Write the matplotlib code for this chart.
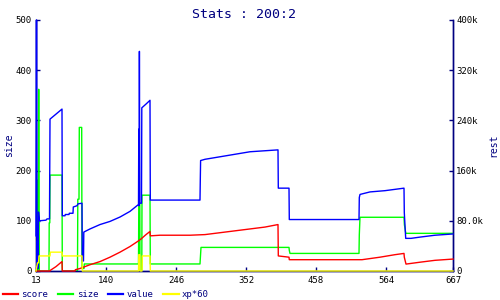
import numpy as np
import matplotlib
matplotlib.use("Agg")
import matplotlib.pyplot as plt

# x = sample position along the run, ticks are labelled with the step number
tick_pos = [0, 70, 140, 210, 280, 350, 417]
tick_lab = ["13", "140", "246", "352", "458", "564", "667"]

# size (left axis)
size_x = [0, 1.5, 1.8, 2.2, 2.7, 3.3, 13, 13.2, 13.8, 14, 26, 26.3, 41.5, 41.8, 43, 43.3,
          45.7, 46, 48, 48.3, 102.5, 102.8, 103.8, 104, 105.8, 106, 114, 114.3, 164, 165,
          253, 253.3, 254, 323, 323.3, 324, 368, 368.4, 369.8, 417]
size_y = [0, 0, 181, 0, 362, 0, 0, 96, 96, 191, 191, 0, 0, 143, 143, 286,
          286, 5, 5, 14, 14, 135, 135, 0, 0, 151, 151, 14, 14, 47,
          47, 41, 35, 35, 72, 107, 107, 92, 75, 75]

# score (right axis, thousands)
score_x = [0, 14, 14.3, 20, 26, 26.3, 39, 39.3, 44, 54, 64, 74, 84, 94, 102.5, 105, 110,
           114, 114.3, 124, 154, 169, 194, 214, 229, 242, 242.3, 253, 253.3, 326, 344,
           359, 368, 368.3, 370, 384, 399, 417]
score_y = [0, 0, 1, 7, 15, 0, 0, 2, 4, 10, 15, 22, 30, 39, 48, 51, 58,
           63, 56, 57, 57, 58, 63, 67, 70, 74, 24, 22, 18, 18, 22,
           26, 28, 22, 11, 14, 17, 19]

# value (right axis, thousands)
value_x = [0, 0.5, 1, 1.5, 2, 2.5, 3.5, 10, 11, 13.5, 14, 20, 26, 26.3, 29, 29.3, 33,
           33.3, 37, 37.3, 41, 42, 46, 46.3, 47.5, 47.8, 54, 64, 74, 84, 94, 102.5,
           102.8, 103.1, 103.4, 103.8, 105.5, 105.8, 110, 114, 114.3, 164, 164.3, 164.6,
           169, 184, 199, 214, 242, 242.3, 253, 253.3, 323, 323.3, 324, 334, 349, 368,
           368.3, 369.7, 375, 384, 399, 417]
value_y = [56, 400, 12, 48, 4, 94, 80, 81, 83, 83, 242, 250, 258, 88, 88, 90, 90,
           92, 92, 102, 104, 107, 108, 16, 16, 62, 67, 74, 79, 86, 95, 106,
           226, 104, 350, 108, 108, 260, 266, 272, 113, 113, 146, 176,
           178, 182, 186, 190, 193, 132, 132, 82, 82, 117, 122, 126, 128, 132,
           93, 52, 52, 54, 57, 59]

# xp*60 (right axis, thousands)
xp_x = [0, 1.5, 2.5, 3, 14, 14.3, 26, 26.3, 46, 46.3, 102.5, 102.8, 103.8, 104, 106,
        106.3, 114, 114.3, 417]
xp_y = [0, 13, 13, 24, 24, 30, 30, 24, 24, 0, 0, 26, 26, 0, 0,
        24, 24, 0, 0]

rest_ticks = [0, 80, 160, 240, 320, 400]
rest_labels = ["0", "80.0k", "160k", "240k", "320k", "400k"]

navy = "#000080"
mono = "DejaVu Sans Mono"

fig = plt.figure(figsize=(5, 3), dpi=100)
ax = fig.add_axes([0.072, 0.0967, 0.834, 0.8367])
ax2 = ax.twinx()

l_size, = ax.plot(size_x, size_y, color="#00ff00", lw=1, label="size", clip_on=False, zorder=3)
l_score, = ax2.plot(score_x, score_y, color="#ff0000", lw=1, label="score", clip_on=False, zorder=3)
l_value, = ax2.plot(value_x, value_y, color="#0000ff", lw=1, label="value", clip_on=False, zorder=3)
l_xp, = ax2.plot(xp_x, xp_y, color="#ffff00", lw=1, label="xp*60", clip_on=False, zorder=3)

ax.set_xlim(0, 417)
ax.set_ylim(0, 500)
ax2.set_ylim(0, 400)

ax.set_xticks(tick_pos)
ax.set_xticklabels(tick_lab)
ax.set_yticks([0, 100, 200, 300, 400, 500])
ax2.set_yticks(rest_ticks)
ax2.set_yticklabels(rest_labels)

for a in (ax, ax2):
    a.spines["top"].set_visible(False)
    for s in ("left", "right", "bottom"):
        a.spines[s].set_color(navy)
        a.spines[s].set_linewidth(1.0)
    a.tick_params(direction="in", length=3, width=1, color=navy,
                  labelsize=6.5, labelcolor="black")
ax.tick_params(axis="x", pad=3.5)
ax.tick_params(axis="y", pad=3)
ax2.tick_params(axis="y", pad=2.2)
for lab in ax.get_xticklabels() + ax.get_yticklabels() + ax2.get_yticklabels():
    lab.set_family(mono)

ax.set_ylabel("size", color=navy, fontsize=7, family=mono, va="center", ha="center")
ax.yaxis.set_label_coords(-0.065, 0.5)
ax2.set_ylabel("rest", color=navy, fontsize=7, family=mono, rotation=90,
               va="center", ha="center")
ax2.yaxis.set_label_coords(1.096, 0.5)

fig.text(0.489, 0.975, "Stats : 200:2", color=navy, fontsize=9.5, family=mono,
         ha="center", va="top")

leg = fig.legend(handles=[l_score, l_size, l_value, l_xp], loc="lower left",
                 bbox_to_anchor=(0.0, -0.005), ncol=4, frameon=False,
                 prop={"family": mono, "size": 6.5}, handlelength=1.7,
                 handletextpad=0.35, columnspacing=1.1, borderaxespad=0,
                 borderpad=0.3)
for h in leg.get_lines():
    h.set_linewidth(1.6)
for t in leg.get_texts():
    t.set_color(navy)

fig.savefig("out.png", dpi=100)
